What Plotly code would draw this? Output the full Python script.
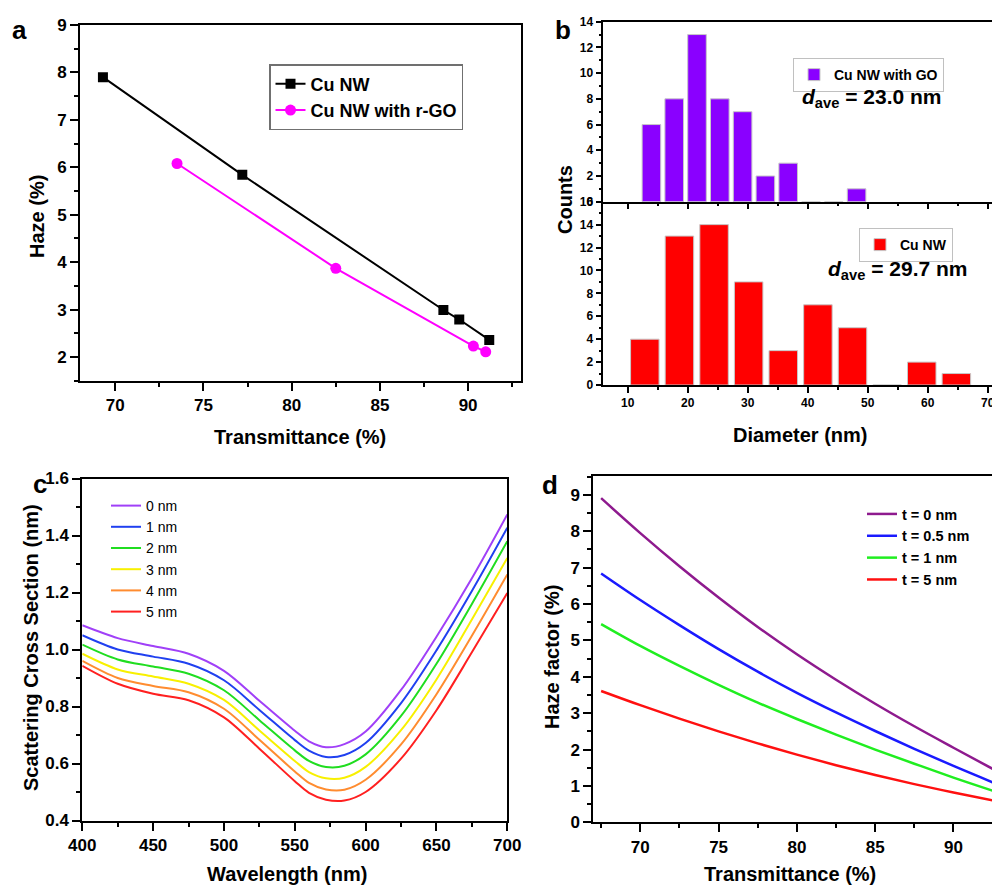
import plotly.graph_objects as go

# ---------------- data ----------------
# panel a
a_cu_x = [69.3, 77.2, 88.6, 89.5, 91.2]
a_cu_y = [7.90, 5.84, 2.99, 2.79, 2.36]
a_go_x = [73.5, 82.5, 90.3, 91.0]
a_go_y = [6.08, 3.87, 2.23, 2.11]

# panel b
b_go_centers = [13.95, 17.75, 21.55, 25.35, 29.15, 32.95, 36.75, 40.55, 44.35, 48.15]
b_go_counts = [6, 8, 13, 8, 7, 2, 3, 0, 0, 1]
b_cu_centers = [12.85, 18.62, 24.39, 30.16, 35.93, 41.70, 47.47, 53.24, 59.01, 64.78]
b_cu_counts = [4, 13, 14, 9, 3, 7, 5, 0, 2, 1]

# panel c
c_wl = [400, 425, 450, 475, 500, 525, 550, 560, 572, 585, 600, 625, 650, 675, 700]
c_names = ["0 nm", "1 nm", "2 nm", "3 nm", "4 nm", "5 nm"]
c_0 = [1.085, 1.040, 1.012, 0.985, 0.925, 0.820, 0.715, 0.678, 0.657, 0.668, 0.712, 0.858, 1.045, 1.250, 1.474]
c_1 = [1.050, 1.000, 0.975, 0.950, 0.892, 0.788, 0.682, 0.645, 0.623, 0.630, 0.672, 0.812, 0.997, 1.205, 1.427]
c_2 = [1.017, 0.965, 0.940, 0.915, 0.857, 0.752, 0.646, 0.609, 0.588, 0.592, 0.632, 0.767, 0.950, 1.160, 1.380]
c_3 = [0.985, 0.930, 0.905, 0.880, 0.823, 0.716, 0.609, 0.570, 0.548, 0.550, 0.588, 0.717, 0.895, 1.105, 1.321]
c_4 = [0.960, 0.900, 0.872, 0.850, 0.792, 0.683, 0.572, 0.532, 0.509, 0.508, 0.543, 0.667, 0.843, 1.048, 1.263]
c_5 = [0.943, 0.880, 0.845, 0.822, 0.762, 0.652, 0.538, 0.497, 0.473, 0.470, 0.500, 0.617, 0.787, 0.990, 1.198]
c_series = [c_0, c_1, c_2, c_3, c_4, c_5]
c_colors = ["#A040F8", "#2040F0", "#20DD20", "#F8F000", "#FF8C30", "#FF2020"]

# panel d
d_t = [67.5, 70, 72.5, 75, 77.5, 80, 82.5, 85, 87.5, 90, 92.5]
d_names = ["t = 0 nm", "t = 0.5 nm", "t = 1 nm", "t = 5 nm"]
d_0 = [8.91, 7.95, 7.04, 6.18, 5.37, 4.62, 3.92, 3.26, 2.64, 2.05, 1.47]
d_05 = [6.84, 6.11, 5.42, 4.76, 4.14, 3.56, 3.02, 2.51, 2.02, 1.55, 1.10]
d_1 = [5.45, 4.85, 4.30, 3.78, 3.29, 2.84, 2.41, 2.00, 1.61, 1.23, 0.87]
d_5 = [3.61, 3.22, 2.85, 2.50, 2.17, 1.86, 1.57, 1.30, 1.05, 0.82, 0.60]
d_series = [d_0, d_05, d_1, d_5]
d_colors = ["#8E1A8E", "#1A1AFF", "#20EE20", "#FF1010"]

W, H = 992, 888
FONT = "Arial, Liberation Sans, sans-serif"


def px(x):
    return x / W


def py(y):
    return 1 - y / H


fig = go.Figure()

# ---- panel a ----
fig.add_trace(go.Scatter(x=a_cu_x, y=a_cu_y, mode="lines+markers", name="Cu NW",
                         line=dict(color="black", width=2),
                         marker=dict(symbol="square", size=10, color="black"),
                         xaxis="x", yaxis="y", legend="legend"))
fig.add_trace(go.Scatter(x=a_go_x, y=a_go_y, mode="lines+markers", name="Cu NW with r-GO",
                         line=dict(color="#FF00FF", width=2),
                         marker=dict(symbol="circle", size=11, color="#FF00FF"),
                         xaxis="x", yaxis="y", legend="legend"))

# ---- panel b ----
fig.add_trace(go.Bar(x=b_go_centers, y=b_go_counts, width=3.1, name="Cu NW with GO",
                     marker=dict(color="#8A00FF", line=dict(color="#C8C8C8", width=1)),
                     xaxis="x2", yaxis="y2", legend="legend2"))
fig.add_trace(go.Bar(x=b_cu_centers, y=b_cu_counts, width=4.75, name="Cu NW",
                     marker=dict(color="#FF0000", line=dict(color="#C8C8C8", width=1)),
                     xaxis="x3", yaxis="y3", legend="legend3"))

# ---- panel c ----
for name, ys, col in zip(c_names, c_series, c_colors):
    fig.add_trace(go.Scatter(x=c_wl, y=ys, mode="lines", name=name,
                             line=dict(color=col, width=2, shape="spline", smoothing=0.9),
                             xaxis="x4", yaxis="y4", legend="legend4"))

# ---- panel d ----
for name, ys, col in zip(d_names, d_series, d_colors):
    fig.add_trace(go.Scatter(x=d_t, y=ys, mode="lines", name=name,
                             line=dict(color=col, width=2.5, shape="spline"),
                             xaxis="x5", yaxis="y5", legend="legend5"))


def ax(domain, rng, dtick, minor, anchor, size, lw=2, ticklen=8, showlabels=True,
       mirror=True, fmt=None):
    d = dict(domain=domain, range=rng, dtick=dtick, tick0=0, anchor=anchor,
             showgrid=False, zeroline=False, showline=True, linecolor="black",
             linewidth=lw, mirror=mirror, ticks="outside", ticklen=ticklen,
             tickwidth=lw, tickcolor="black", showticklabels=showlabels,
             ticklabeloverflow="allow",
             tickfont=dict(family=FONT, size=size, color="black", weight="bold"),
             minor=dict(ticks="outside", ticklen=ticklen // 2, tickwidth=lw,
                        tickcolor="black", dtick=minor, tick0=0, showgrid=False))
    if fmt:
        d["tickformat"] = fmt
    return d


layout = dict(
    width=W, height=H, margin=dict(l=0, r=0, t=0, b=0, autoexpand=False),
    paper_bgcolor="white", plot_bgcolor="white",
    font=dict(family=FONT, color="black"),
    barmode="overlay",
    xaxis=ax([px(80), px(521)], [68, 93], 5, 2.5, "y", 17),
    yaxis=ax([py(380.7), py(25)], [1.5, 9], 1, 0.5, "x", 17),
    xaxis2=ax([px(603.3), 1.0], [5.93, 70.72], 10, 5, "y2", 12, lw=1.5, ticklen=6,
              showlabels=False),
    yaxis2=ax([py(201.7), py(21.7)], [0, 14], 2, 1, "x2", 12, lw=1.5, ticklen=6),
    xaxis3=ax([px(603.3), 1.0], [5.93, 70.72], 10, 5, "y3", 12, lw=1.5, ticklen=6,
              mirror=False),
    yaxis3=ax([py(385), py(201.7)], [0, 16], 2, 1, "x3", 12, lw=1.5, ticklen=6),
    xaxis4=ax([px(82.3), px(507.3)], [400, 700], 50, 25, "y4", 17),
    yaxis4=ax([py(820.5), py(478.5)], [0.4, 1.6], 0.2, 0.1, "x4", 17, fmt=".1f"),
    xaxis5=ax([px(593.3), 1.0], [67, 92.46], 5, 2.5, "y5", 17),
    yaxis5=ax([py(822.3), py(476)], [0, 9.52], 1, 0.5, "x5", 17),
    legend=dict(x=px(269), y=py(64), xanchor="left", yanchor="top",
                bgcolor="white", bordercolor="#707070", borderwidth=1.5,
                font=dict(family=FONT, size=18, color="black", weight="bold")),
    legend2=dict(x=px(793), y=py(58), xanchor="left", yanchor="top",
                 bgcolor="white", bordercolor="#C0C0C0", borderwidth=1,
                 font=dict(family=FONT, size=14, color="black", weight="bold")),
    legend3=dict(x=px(859), y=py(228), xanchor="left", yanchor="top",
                 bgcolor="white", bordercolor="#C0C0C0", borderwidth=1,
                 font=dict(family=FONT, size=14, color="black", weight="bold")),
    legend4=dict(x=px(106), y=py(490), xanchor="left", yanchor="top",
                 bgcolor="rgba(0,0,0,0)", borderwidth=0,
                 font=dict(family=FONT, size=14, color="black")),
    legend5=dict(x=px(862), y=py(498), xanchor="left", yanchor="top",
                 bgcolor="rgba(0,0,0,0)", borderwidth=0,
                 font=dict(family=FONT, size=14.5, color="black", weight="bold")),
    showlegend=True,
)
fig.update_layout(**layout)


def ann(text, x, y, size, angle=0, weight="bold"):
    fig.add_annotation(text=text, x=px(x), y=py(y), xref="paper", yref="paper",
                       showarrow=False, xanchor="center", yanchor="middle", textangle=angle,
                       font=dict(family=FONT, size=size, color="black", weight=weight))


# panel labels
ann("a", 19, 30, 26)
ann("b", 563, 30, 26)
ann("c", 40, 484, 26)
ann("d", 550, 485, 26)

# axis titles
ann("Haze (%)", 37, 217, 20, angle=-90)
ann("Transmittance (%)", 300, 437, 20)
ann("Counts", 565, 200, 20, angle=-90)
ann("Diameter (nm)", 800, 435, 20)
ann("Scattering Cross Section (nm)", 31, 648, 20, angle=-90)
ann("Wavelength (nm)", 287, 874, 20)
ann("Haze factor (%)", 552, 657, 20, angle=-90)
ann("Transmittance (%)", 790, 874, 20)

# d_ave labels
ann("<i>d</i><sub>ave</sub> = 23.0 nm", 871, 98, 21)
ann("<i>d</i><sub>ave</sub> = 29.7 nm", 897, 270, 21)

fig.write_html(
    "out.html",
    config={"displayModeBar": False},
    post_script="document.body.style.margin='0';document.body.style.overflow='hidden';",
)
